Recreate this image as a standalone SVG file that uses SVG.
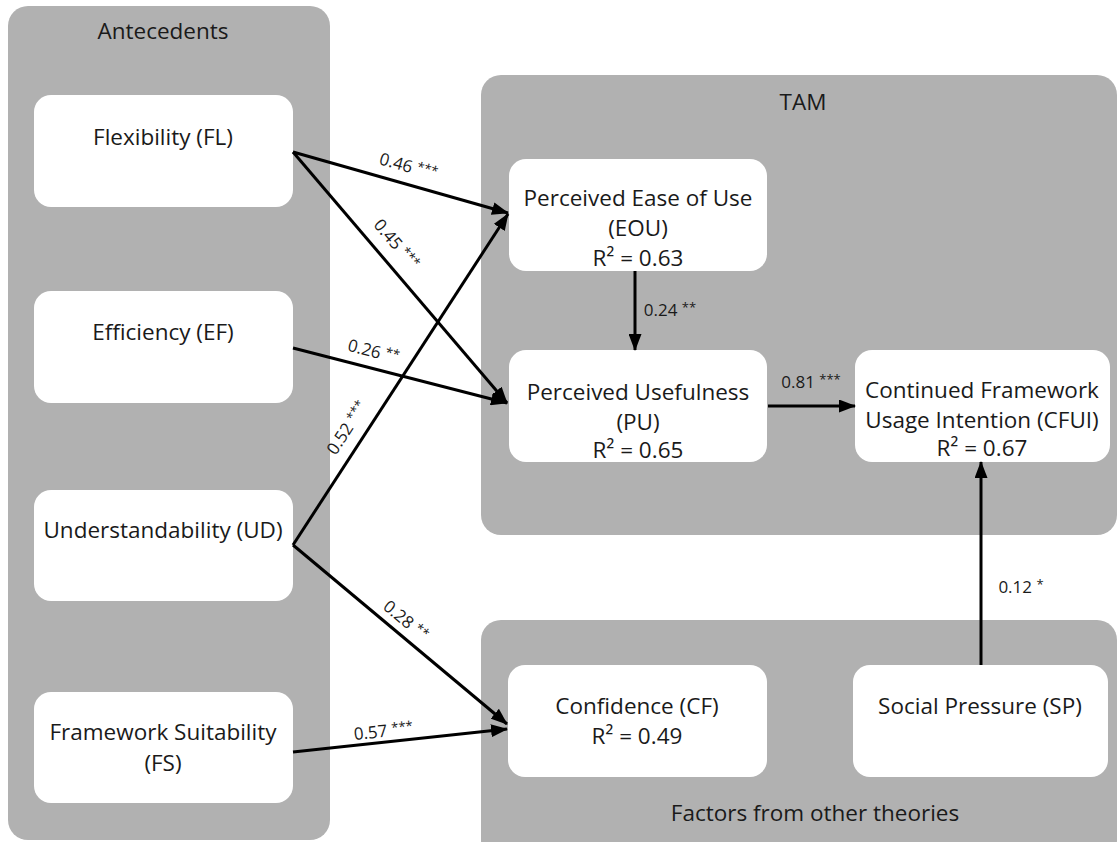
<svg xmlns="http://www.w3.org/2000/svg" width="1118" height="842" viewBox="0 0 1118 842">
<style>
.panel{fill:#b1b1b1}
.box{fill:#ffffff}
.t{font-family:"Open Sans","Liberation Sans",sans-serif;font-size:22.5px;fill:#1a1a1a;text-anchor:middle}
.lbl{font-family:"Open Sans","Liberation Sans",sans-serif;font-size:17px;fill:#1a1a1a;text-anchor:middle}
.st{font-size:13px}
.edge{stroke:#000;stroke-width:3;fill:none;marker-end:url(#ah)}
</style>
<defs>
<marker id="ah" viewBox="0 0 17 13" refX="16" refY="6.5" markerWidth="17" markerHeight="13" markerUnits="userSpaceOnUse" orient="auto">
<path d="M0,0 L17,6.5 L0,13 Z" fill="#000"/>
</marker>
</defs>
<rect x="0" y="0" width="1118" height="842" fill="#ffffff"/>
<g id="panel-antecedents">
<rect class="panel" x="8" y="6" width="322" height="834" rx="20"/>
<text class="t" x="163" y="39">Antecedents</text>
</g>
<g id="panel-tam">
<rect class="panel" x="481" y="75" width="636" height="460" rx="20"/>
<text class="t" x="803" y="110">TAM</text>
</g>
<g id="panel-factors">
<rect class="panel" x="481" y="620" width="636" height="240" rx="20"/>
<text class="t" x="815" y="821">Factors from other theories</text>
</g>
<g id="node-fl"><rect class="box" x="34" y="95" width="259" height="112" rx="17"/><text class="t" x="163" y="145">Flexibility (FL)</text></g>
<g id="node-ef"><rect class="box" x="34" y="291" width="259" height="112" rx="17"/><text class="t" x="163" y="340">Efficiency (EF)</text></g>
<g id="node-ud"><rect class="box" x="34" y="490" width="259" height="111" rx="17"/><text class="t" x="163" y="538">Understandability (UD)</text></g>
<g id="node-fs"><rect class="box" x="34" y="692" width="259" height="111" rx="17"/><text class="t" x="163" y="740">Framework Suitability</text><text class="t" x="163" y="771">(FS)</text></g>
<g id="node-eou"><rect class="box" x="509" y="159" width="258" height="112" rx="17"/><text class="t" x="638" y="206">Perceived Ease of Use</text><text class="t" x="638" y="236">(EOU)</text><text class="t" x="638" y="266">R² = 0.63</text></g>
<g id="node-pu"><rect class="box" x="509" y="350" width="258" height="112" rx="17"/><text class="t" x="638" y="400">Perceived Usefulness</text><text class="t" x="638" y="430">(PU)</text><text class="t" x="638" y="458">R² = 0.65</text></g>
<g id="node-cfui"><rect class="box" x="855" y="350" width="255" height="112" rx="17"/><text class="t" x="982" y="398">Continued Framework</text><text class="t" x="982" y="428">Usage Intention (CFUI)</text><text class="t" x="982" y="456">R² = 0.67</text></g>
<g id="node-cf"><rect class="box" x="508" y="665" width="259" height="112" rx="17"/><text class="t" x="637" y="714">Confidence (CF)</text><text class="t" x="637" y="744">R² = 0.49</text></g>
<g id="node-sp"><rect class="box" x="853" y="665" width="255" height="112" rx="17"/><text class="t" x="980" y="714">Social Pressure (SP)</text></g>
<g id="connectors">
<line class="edge" x1="293" y1="152" x2="508" y2="213"/>
<line class="edge" x1="293" y1="152" x2="507" y2="403"/>
<line class="edge" x1="293" y1="348" x2="507" y2="403"/>
<line class="edge" x1="293" y1="545" x2="508" y2="214"/>
<line class="edge" x1="293" y1="545" x2="507" y2="724"/>
<line class="edge" x1="293" y1="752" x2="507" y2="729"/>
<line class="edge" x1="635" y1="271" x2="635" y2="350"/>
<line class="edge" x1="768" y1="406" x2="855" y2="406"/>
<line class="edge" x1="981" y1="665" x2="981" y2="462"/>
<text class="lbl" transform="translate(407,172) rotate(15.8)">0.46 <tspan class="st" dy="-4">***</tspan></text>
<text class="lbl" transform="translate(392,248) rotate(49.5)">0.45 <tspan class="st" dy="-4">***</tspan></text>
<text class="lbl" transform="translate(372,357) rotate(14.4)">0.26 <tspan class="st" dy="-4">**</tspan></text>
<text class="lbl" transform="translate(352,431) rotate(-57)">0.52 <tspan class="st" dy="-4">***</tspan></text>
<text class="lbl" transform="translate(402,625) rotate(39.9)">0.28 <tspan class="st" dy="-4">**</tspan></text>
<text class="lbl" transform="translate(384,737) rotate(-6)">0.57 <tspan class="st" dy="-4">***</tspan></text>
<text class="lbl" x="670" y="316">0.24 <tspan class="st" dy="-4">**</tspan></text>
<text class="lbl" x="811" y="388">0.81 <tspan class="st" dy="-4">***</tspan></text>
<text class="lbl" x="1021" y="593">0.12 <tspan class="st" dy="-4">*</tspan></text>
</g>
</svg>
